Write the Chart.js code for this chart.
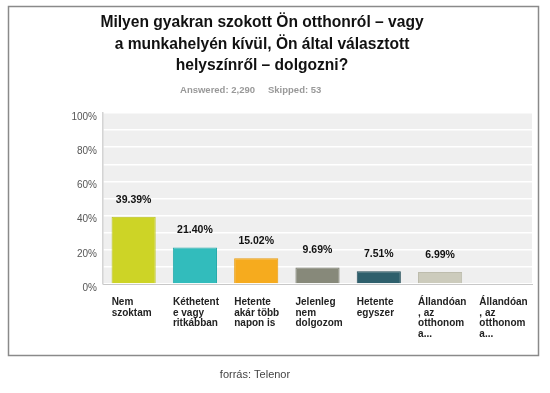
<!DOCTYPE html>
<html>
<head>
<meta charset="utf-8">
<script src="https://cdn.jsdelivr.net/npm/chart.js@4"></script>
<style>
  body { margin: 0; background: #fff; }
  #wrap { position: relative; width: 550px; height: 393px; }
</style>
</head>
<body>
<div id="wrap"><canvas id="surveyChart" width="550" height="393"></canvas></div>
<script>
const titleLines = ['Milyen gyakran szokott Ön otthonról – vagy', 'a munkahelyén kívül, Ön által választott', 'helyszínről – dolgozni?'];
const answered = 'Answered: 2,290';
const skipped = 'Skipped: 53';
const source = 'forrás: Telenor';

const categories = [
    ['Nem', 'szoktam'],
    ['Kéthetent', 'e vagy', 'ritkábban'],
    ['Hetente', 'akár több', 'napon is'],
    ['Jelenleg', 'nem', 'dolgozom'],
    ['Hetente', 'egyszer'],
    ['Állandóan', ', az', 'otthonom', 'a...'],
    ['Állandóan', ', az', 'otthonom', 'a...']
];
const percents = [39.39, 21.40, 15.02, 9.69, 7.51, 6.99, 0];
const barColors = ['#cdd426', '#32bcbc', '#f6ab1e', '#87897a', '#2e5f6c', '#cccbbc', '#cccbbc'];
const barBorders = ['#bcc41e', '#25abab', '#e89d10', '#76786a', '#1f4a56', '#bdbcad', '#bdbcad'];

const FONT = '"Liberation Sans", Arial, sans-serif';

// grey plot background, frame, titles and value labels
const decor = {
    id: 'decor',
    beforeDraw(chart) {
        const { ctx, chartArea: a } = chart;
        ctx.save();
        ctx.fillStyle = '#efefef';
        ctx.fillRect(a.left, a.top, a.right - a.left, a.bottom - a.top);
        ctx.restore();
    },
    afterDraw(chart) {
        const { ctx } = chart;
        ctx.save();
        ctx.strokeStyle = '#8a8a8a';
        ctx.lineWidth = 1.5;
        ctx.strokeRect(8.5, 6.5, 530, 349);

        ctx.fillStyle = '#111';
        ctx.font = 'bold 15.6px ' + FONT;
        ctx.textAlign = 'center';
        ctx.textBaseline = 'middle';
        titleLines.forEach((t, i) => ctx.fillText(t, 262, 23 + i * 21.5));

        ctx.font = 'bold 9.5px ' + FONT;
        ctx.fillStyle = '#999';
        ctx.textAlign = 'right';
        ctx.fillText(answered, 255, 90);
        ctx.textAlign = 'left';
        ctx.fillText(skipped, 268, 90);

        ctx.font = '11px ' + FONT;
        ctx.fillStyle = '#444';
        ctx.textAlign = 'center';
        ctx.fillText(source, 255, 375);

        const meta = chart.getDatasetMeta(0);
        ctx.font = 'bold 10.5px ' + FONT;
        ctx.fillStyle = '#111';
        meta.data.forEach((bar, i) => {
            if (!percents[i]) return;
            ctx.fillText(percents[i].toFixed(2) + '%', bar.x, bar.y - 17);
        });
        ctx.restore();
    }
};

new Chart(document.getElementById('surveyChart'), {
    type: 'bar',
    data: {
        labels: categories,
        datasets: [{
            data: percents,
            backgroundColor: barColors,
            borderColor: barBorders,
            borderWidth: 1,
            barPercentage: 0.72,
            categoryPercentage: 1
        }]
    },
    options: {
        responsive: false,
        animation: false,
        layout: { padding: { left: 63, right: 18, top: 113, bottom: 39 } },
        plugins: { legend: { display: false }, tooltip: { enabled: false } },
        scales: {
            x: {
                afterFit: s => { s.height = 70; s.paddingLeft = 0; s.paddingRight = 0; },
                grid: { display: false, drawTicks: false },
                border: { color: '#c8c8c8' },
                ticks: {
                    align: 'start',
                    labelOffset: -22,
                    padding: 13,
                    autoSkip: false,
                    maxRotation: 0,
                    color: '#222',
                    font: { family: FONT, size: 10, weight: 'bold', lineHeight: 1.05 }
                }
            },
            y: {
                min: 0,
                max: 100,
                afterFit: s => { s.width = 40; },
                grid: { color: '#ffffff', lineWidth: 1.5, drawTicks: false },
                border: { color: '#d4d4d4', width: 1.5 },
                ticks: {
                    stepSize: 10,
                    padding: 6,
                    labelOffset: 4,
                    color: '#555',
                    font: { family: FONT, size: 10 },
                    callback: v => (v % 20 === 0 ? v + '%' : '')
                }
            }
        }
    },
    plugins: [decor]
});
</script>
</body>
</html>
